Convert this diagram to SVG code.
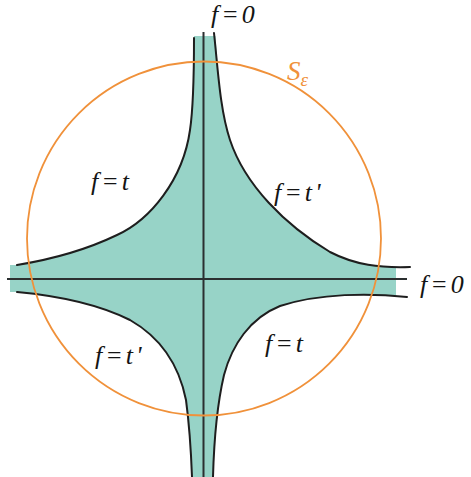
<svg xmlns="http://www.w3.org/2000/svg" width="471" height="477" viewBox="0 0 471 477">
<style>
.curve{fill:none;stroke:#1e1e1e;stroke-width:2;stroke-linecap:round}
.axis{fill:none;stroke:#2b2f30;stroke-width:2}
.lbl{font-family:"Liberation Serif",serif;font-style:italic;font-size:26px;letter-spacing:3px;fill:#141414}
.orange{fill:#f0913a;font-family:"Liberation Serif",serif;font-style:italic;font-size:27px}
</style>
<defs>
<clipPath id="clip"><rect x="10" y="36" width="386" height="445" rx="6"/></clipPath>
</defs>
<rect width="471" height="477" fill="#ffffff"/>
<g id="region">
<path clip-path="url(#clip)" fill="#97d3c7" d="M194,30 L194,38 C194,80 193,110 190,130 C183,180 150,220 117,235 C90,248 60,258 17,265 L0,265 L0,292 L17,292 C60,296 100,305 130,320 C165,340 180,370 186,400 C190,430 191,450 192,480 L213,480 C214,440 217,405 224,375 C232,345 250,318 280,306 C320,293 370,293 407,297 L407,267 C380,268 355,265 330,252 C285,225 245,185 230,140 C220,110 218,70 215,30 Z"/>
</g>
<g id="axes">
<line class="axis" x1="203.5" y1="32" x2="203.5" y2="477"/>
<line class="axis" x1="7" y1="279" x2="407" y2="279"/>
</g>
<g id="curves">
<path class="curve" d="M194,38 C194,80 193,110 190,130 C183,180 150,220 117,235 C90,248 60,258 17,265"/>
<path class="curve" d="M214,33 C218,70 220,110 230,140 C245,185 285,225 330,252 C355,265 380,268 410,267"/>
<path class="curve" d="M17,292 C60,296 100,305 130,320 C165,340 180,370 186,400 C190,430 191,450 192,477"/>
<path class="curve" d="M407,297 C370,293 320,293 280,306 C250,318 232,345 224,375 C217,405 214,440 213,477"/>
</g>
<g id="circle">
<circle cx="204" cy="238.5" r="177" fill="none" stroke="#f0913a" stroke-width="1.8"/>
</g>
<g id="labels">
<text class="lbl" x="211" y="23">f=0</text>
<text class="orange" x="287" y="80">S<tspan font-size="19" dy="6">ε</tspan></text>
<text class="lbl" x="91" y="190">f=t</text>
<text class="lbl" x="274" y="201">f=t'</text>
<text class="lbl" x="420" y="293">f=0</text>
<text class="lbl" x="95" y="364">f=t'</text>
<text class="lbl" x="265" y="352">f=t</text>
</g>
</svg>
